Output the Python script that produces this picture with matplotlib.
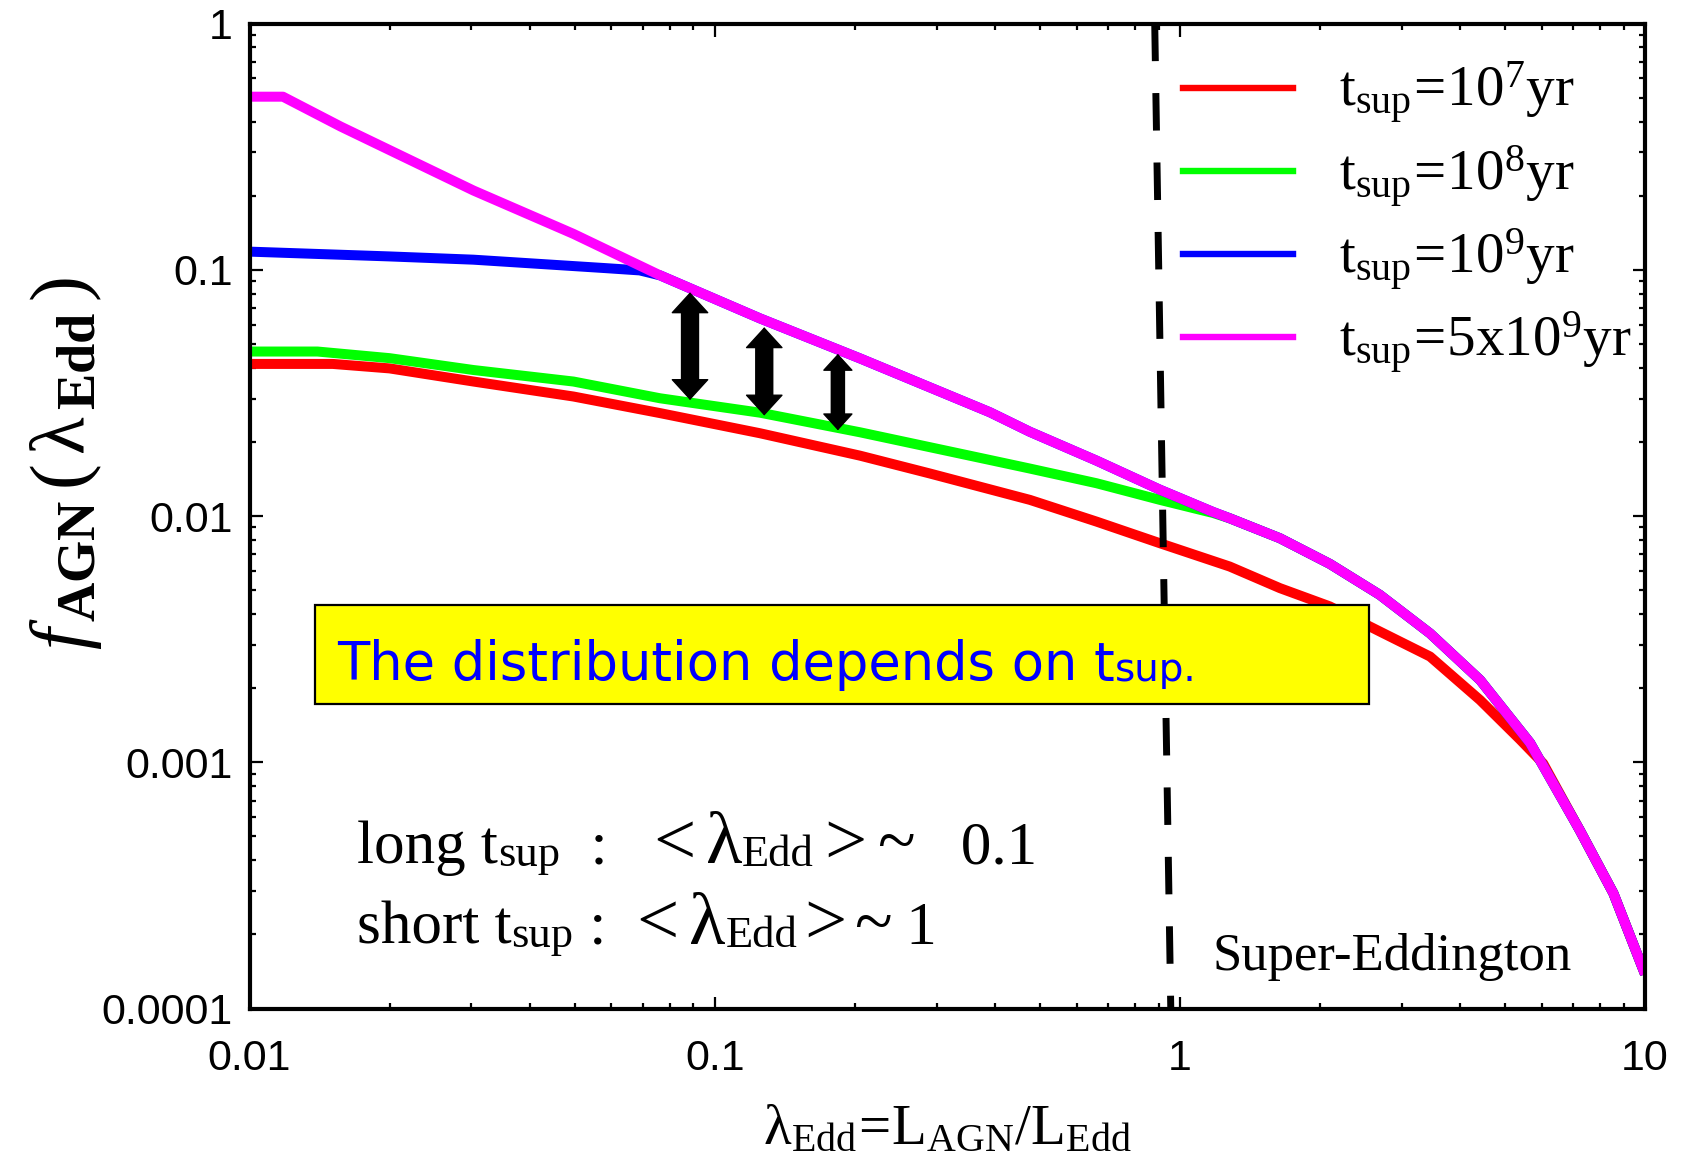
import matplotlib
matplotlib.use("Agg")
import matplotlib.pyplot as plt
from matplotlib.lines import Line2D
from matplotlib.patches import Rectangle
from matplotlib.ticker import NullFormatter, LogLocator

# ---------------- data ----------------
# t_sup = 5x10^9 yr (magenta)
lam_5e9 = [0.01, 0.0118, 0.0157, 0.0303, 0.0497, 0.0763, 0.1252, 0.2053, 0.3906,
           0.476, 0.662, 0.906, 1.178, 1.28, 1.641, 2.10, 2.69, 3.45, 4.42, 5.66,
           7.24, 8.55, 10.0]
f_5e9 = [0.505, 0.505, 0.382, 0.21, 0.140, 0.095, 0.0635, 0.0437, 0.0264,
         0.022, 0.0168, 0.0128, 0.0104, 0.0098, 0.00813, 0.0064, 0.00479, 0.00334,
         0.00216, 0.0012, 5.3e-4, 2.94e-4, 1.38e-4]

# t_sup = 10^9 yr (blue), joins the magenta curve near 0.07
lam_1e9 = [0.01, 0.02, 0.0303, 0.0585, 0.069, 0.0763, 0.1252, 0.2053, 0.3906,
           0.476, 0.662, 0.906, 1.178, 1.28, 1.641, 2.10, 2.69, 3.45, 4.42, 5.66,
           7.24, 8.55, 10.0]
f_1e9 = [0.1186, 0.1134, 0.110, 0.1016, 0.0995, 0.095, 0.0635, 0.0437, 0.0264,
         0.022, 0.0168, 0.0128, 0.0104, 0.0098, 0.00813, 0.0064, 0.00479, 0.00334,
         0.00216, 0.0012, 5.3e-4, 2.94e-4, 1.38e-4]

# t_sup = 10^8 yr (green), joins the magenta curve near 1.2
lam_1e8 = [0.01, 0.014, 0.02, 0.0303, 0.0497, 0.0763, 0.1252, 0.2053, 0.3906,
           0.476, 0.662, 0.906, 1.178, 1.28, 1.641, 2.10, 2.69, 3.45, 4.42, 5.66,
           7.24, 8.55, 10.0]
f_1e8 = [0.0466, 0.0466, 0.0438, 0.0392, 0.0352, 0.0301, 0.0263, 0.0219,
         0.0169, 0.0156, 0.0136, 0.01164, 0.0103, 0.0098, 0.00813, 0.0064, 0.00479,
         0.00334, 0.00216, 0.0012, 5.3e-4, 2.94e-4, 1.38e-4]

# t_sup = 10^7 yr (red), joins the magenta curve near 6
lam_1e7 = [0.01, 0.0151, 0.02, 0.0303, 0.0497, 0.0763, 0.1252, 0.2053, 0.29, 0.476,
           0.662, 0.906, 1.28, 1.641, 2.10, 2.69, 3.45, 4.42, 5.38, 6.04, 7.24,
           8.55, 10.0]
f_1e7 = [0.0415, 0.0415, 0.0398, 0.0352, 0.0306, 0.0262, 0.0217, 0.0176, 0.0149,
         0.01164, 0.0095, 0.00776, 0.00624, 0.0051, 0.0043, 0.0034, 0.00269,
         0.00179, 0.00124, 9.9e-4, 5.3e-4, 2.94e-4, 1.38e-4]

series_labels = [r'$\mathrm{t_{sup}\!=\!10^{7}yr}$',
                 r'$\mathrm{t_{sup}\!=\!10^{8}yr}$',
                 r'$\mathrm{t_{sup}\!=\!10^{9}yr}$',
                 r'$\mathrm{t_{sup}\!=\!5x10^{9}yr}$']
series_colors = ['#ff0000', '#00ff00', '#0000ff', '#ff00ff']

# Eddington limit marker line (slightly tilted in the original)
edd_x = [0.883, 0.956]
edd_y = [1.0, 1e-4]

# double arrows (lambda, top, bottom)
arrow_x = [0.0885, 0.1278, 0.184]
arrow_top = [0.0811, 0.0585, 0.0456]
arrow_bottom = [0.0296, 0.0256, 0.0223]
arrow_size = [24, 24, 19]  # drawing scale of each arrow (style)

xticks = [0.01, 0.1, 1, 10]
xticklabels = ['0.01', '0.1', '1', '10']
yticks = [1e-4, 1e-3, 1e-2, 1e-1, 1]
yticklabels = ['0.0001', '0.001', '0.01', '0.1', '1']

# ---------------- style ----------------
plt.rcParams['mathtext.fontset'] = 'custom'
plt.rcParams['mathtext.rm'] = 'Liberation Serif'
plt.rcParams['mathtext.it'] = 'Liberation Serif:italic'
plt.rcParams['mathtext.bf'] = 'Liberation Serif:bold'
plt.rcParams['font.family'] = ['Liberation Serif', 'DejaVu Serif']

SERIF = ['Liberation Serif', 'DejaVu Serif']
SANS = ['Liberation Sans', 'DejaVu Sans']

fig = plt.figure(figsize=(16.86, 11.64), dpi=100)
ax = fig.add_axes([0.148, 0.1335, 0.8277, 0.8462])

ax.set_xscale('log')
ax.set_yscale('log')
ax.set_xlim(0.01, 10)
ax.set_ylim(1e-4, 1)

curves = [(lam_1e7, f_1e7), (lam_1e8, f_1e8), (lam_1e9, f_1e9), (lam_5e9, f_5e9)]
for (xs, ys), col, z in zip(curves, series_colors, [2, 2.1, 2.2, 2.3]):
    ax.plot(xs, ys, color=col, lw=7.2, solid_capstyle='butt',
            solid_joinstyle='round', zorder=z)

# dashed vertical line
ax.plot(edd_x, edd_y, color='black', lw=5.0, linestyle=(0, (5.4, 4.6)), zorder=3)

# double arrows: thick shaft + filled heads
for xa, yt, yb, ms in zip(arrow_x, arrow_top, arrow_bottom, arrow_size):
    ax.annotate('', xy=(xa, yt), xytext=(xa, yb),
                arrowprops=dict(arrowstyle='-', lw=0.55 * ms, color='black',
                                shrinkA=0.45 * ms, shrinkB=0.45 * ms),
                zorder=4)
    ax.annotate('', xy=(xa, yt), xytext=(xa, yb),
                arrowprops=dict(arrowstyle='<|-|>,head_length=0.58,head_width=0.53',
                                lw=1.0, color='black', shrinkA=0, shrinkB=0,
                                mutation_scale=ms),
                zorder=4)

# yellow box
box = Rectangle((0.0469, 0.3093), 0.7551, 0.1005, transform=ax.transAxes,
                facecolor='#ffff00', edgecolor='black', lw=1.6, zorder=5)
ax.add_patch(box)


def chain_text(pieces, x0, y0, family, color='black', zorder=6):
    s, fs, dy = pieces[0]
    prev = ax.text(x0, y0, s, transform=ax.transAxes, fontsize=fs, family=family,
                   color=color, va='baseline', ha='left', zorder=zorder)
    for s, fs, dy in pieces[1:]:
        prev = ax.annotate(s, xy=(1, y0), xycoords=(prev, ax.transAxes),
                           xytext=(0, dy), textcoords='offset points',
                           fontsize=fs, family=family, color=color,
                           va='baseline', ha='left', zorder=zorder)
    return prev


chain_text([("The distribution depends on t", 38, 0), ("sup.", 28, -1)],
           0.0627, 0.3337, ['DejaVu Sans'], color='#0000ff')

chain_text([("long t", 44, 0), ("sup", 32, -2), ("  :   ", 44, 0), ("<", 54, 0),
            (" ", 30, 0), ("λ", 54, 0), ("Edd", 32, -2), (" ", 30, 0), (">", 54, 0),
            (" ", 30, 0), ("~", 50, 0), ("   0.1", 44, 0)], 0.077, 0.1474, SERIF)
chain_text([("short t", 44, 0), ("sup", 32, -2), (" :  ", 44, 0), ("<", 54, 0),
            (" ", 30, 0), ("λ", 54, 0), ("Edd", 32, -2), (" ", 20, 0), (">", 54, 0),
            (" ", 20, 0), ("~", 50, 0), (" 1", 44, 0)], 0.077, 0.0656, SERIF)

ax.text(0.69, 0.0393, "Super-Eddington", transform=ax.transAxes, fontsize=38,
        family=SERIF, va='baseline', ha='left', zorder=6)

# legend
handles = [Line2D([], [], color=c, lw=4.6) for c in series_colors]
leg = ax.legend(handles, series_labels, loc='upper left', bbox_to_anchor=(0.669, 0.963),
                frameon=False, fontsize=41, handlelength=1.93, handletextpad=0.8,
                labelspacing=0.30, borderpad=0, borderaxespad=0)
leg.set_zorder(7)

# axes labels
ax.set_xlabel(r'$\mathrm{λ_{Edd}\!=\!L_{AGN}/L_{Edd}}$', fontsize=41)
ax.xaxis.set_label_coords(0.5, -0.097)
ax.set_ylabel(r'$\mathit{f}_{\,\mathbf{AGN}}\,\mathrm{(\,λ_{\,\mathbf{Edd}}\,)}$', fontsize=56)
ax.yaxis.set_label_coords(-0.104, 0.553)

# ticks
ax.set_xticks(xticks)
ax.set_xticklabels(xticklabels, family=SANS, fontsize=31)
ax.set_yticks(yticks)
ax.set_yticklabels(yticklabels, family=SANS, fontsize=31)
ax.xaxis.set_minor_locator(LogLocator(base=10, subs=range(2, 10)))
ax.yaxis.set_minor_locator(LogLocator(base=10, subs=range(2, 10)))
ax.xaxis.set_minor_formatter(NullFormatter())
ax.yaxis.set_minor_formatter(NullFormatter())
ax.tick_params(which='both', direction='in', top=True, right=True, width=1.6)
ax.tick_params(which='major', length=9)
ax.tick_params(which='minor', length=4)
ax.tick_params(axis='x', which='major', pad=22)
ax.tick_params(axis='y', which='major', pad=12)

for sp in ax.spines.values():
    sp.set_linewidth(3.0)

fig.savefig('out.png', dpi=100)
